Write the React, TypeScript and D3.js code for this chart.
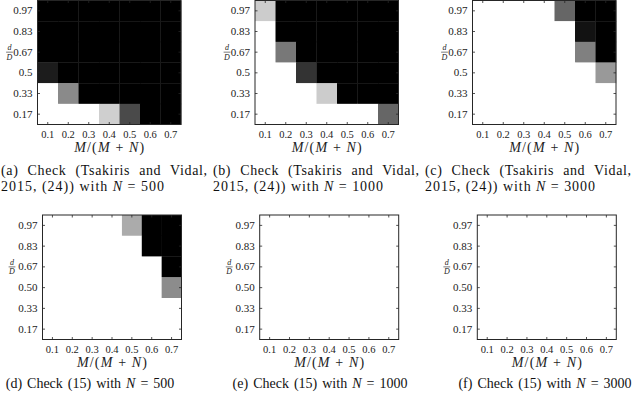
import * as d3 from 'd3';

const xTicks = ['0.1', '0.2', '0.3', '0.4', '0.5', '0.6', '0.7'];
const yTicksTop = ['0.97', '0.83', '0.67', '0.5', '0.33', '0.17'];
const yTicksBottom = ['0.97', '0.83', '0.67', '0.50', '0.33', '0.17'];

// success level per cell (0 = black, 1 = white)
// rows: d/D = 0.97 (top) .. 0.17 (bottom), columns: M/(M+N) = 0.1 .. 0.7
const gridA = [
  [0, 0, 0, 0, 0, 0, 0],
  [0, 0, 0, 0, 0, 0, 0],
  [0, 0, 0, 0, 0, 0, 0],
  [0.11, 0, 0, 0, 0, 0, 0],
  [1, 0.54, 0, 0, 0, 0, 0],
  [1, 1, 1, 0.81, 0.29, 0, 0],
];
const gridB = [
  [0.8, 0, 0, 0, 0, 0, 0],
  [1, 0, 0, 0, 0, 0, 0],
  [1, 0.47, 0, 0, 0, 0, 0],
  [1, 1, 0.2, 0, 0, 0, 0],
  [1, 1, 1, 0.8, 0, 0, 0],
  [1, 1, 1, 1, 1, 1, 0.4],
];
const gridC = [
  [1, 1, 1, 1, 0.4, 0, 0],
  [1, 1, 1, 1, 1, 0.07, 0],
  [1, 1, 1, 1, 1, 0.5, 0],
  [1, 1, 1, 1, 1, 1, 0.6],
  [1, 1, 1, 1, 1, 1, 1],
  [1, 1, 1, 1, 1, 1, 1],
];
const gridD = [
  [1, 1, 1, 1, 0.67, 0, 0],
  [1, 1, 1, 1, 1, 0, 0],
  [1, 1, 1, 1, 1, 1, 0],
  [1, 1, 1, 1, 1, 1, 0.55],
  [1, 1, 1, 1, 1, 1, 1],
  [1, 1, 1, 1, 1, 1, 1],
];
const gridE = [
  [1, 1, 1, 1, 1, 1, 1],
  [1, 1, 1, 1, 1, 1, 1],
  [1, 1, 1, 1, 1, 1, 1],
  [1, 1, 1, 1, 1, 1, 1],
  [1, 1, 1, 1, 1, 1, 1],
  [1, 1, 1, 1, 1, 1, 1],
];
const gridF = gridE;

const FONT = '"Liberation Serif", "DejaVu Serif", serif';
const gray = d3.scaleLinear<string>().domain([0, 1]).range(['#000000', '#ffffff']);

function Heatmap({ grid, yTicks, left, top, width, height, fracGap }) {
  const x = d3.scaleBand().domain(xTicks).range([left, left + width]);
  const y = d3.scaleBand().domain(yTicks).range([top, top + height]);
  const bottom = top + height;
  const right = left + width;
  const tl = 2.5;
  const labelEnd = left - 5;
  const fracX = left - fracGap;
  const fracY = y(yTicks[2])! + y.bandwidth() / 2;
  return (
    <g>
      {grid.map((row, i) =>
        row.map((v, j) => (
          <rect
            key={`${i}-${j}`}
            x={x(xTicks[j])}
            y={y(yTicks[i])}
            width={x.bandwidth() + 0.3}
            height={y.bandwidth() + 0.3}
            fill={gray(v)}
          />
        ))
      )}
      {xTicks.map(t => {
        const cx = x(t)! + x.bandwidth() / 2;
        return (
          <g key={t}>
            <line x1={cx} x2={cx} y1={bottom} y2={bottom - tl} stroke="#262626" strokeWidth={0.8} />
            <line x1={cx} x2={cx} y1={top} y2={top + tl} stroke="#262626" strokeWidth={0.8} />
            <text x={cx} y={bottom + 13.5} textAnchor="middle" fontSize={10.5} fontFamily={FONT} fill="#222">
              {t}
            </text>
          </g>
        );
      })}
      {yTicks.map(t => {
        const cy = y(t)! + y.bandwidth() / 2;
        return (
          <g key={t}>
            <line x1={left} x2={left + tl} y1={cy} y2={cy} stroke="#262626" strokeWidth={0.8} />
            <line x1={right} x2={right - tl} y1={cy} y2={cy} stroke="#262626" strokeWidth={0.8} />
            <text x={labelEnd} y={cy + 3.6} textAnchor="end" fontSize={11} fontFamily={FONT} fill="#222">
              {t}
            </text>
          </g>
        );
      })}
      <rect x={left} y={top} width={width} height={height} fill="none" stroke="#262626" strokeWidth={1} />
      {/* d/D fraction label */}
      <text x={fracX} y={fracY - 1.8} textAnchor="middle" fontSize={8} fontStyle="italic" fontFamily={FONT} fill="#222">d</text>
      <line x1={fracX - 3.4} x2={fracX + 3.4} y1={fracY} y2={fracY} stroke="#222" strokeWidth={0.6} />
      <text x={fracX} y={fracY + 7.6} textAnchor="middle" fontSize={8} fontStyle="italic" fontFamily={FONT} fill="#222">D</text>
      {/* M/(M+N) */}
      <text x={(left + right) / 2} y={bottom + 27} textAnchor="middle" fontSize={14} fontFamily={FONT} fill="#222" textLength={70} lengthAdjust="spacing">
        <tspan fontStyle="italic">M</tspan>/(<tspan fontStyle="italic">M</tspan> + <tspan fontStyle="italic">N</tspan>)
      </text>
    </g>
  );
}

function Caption({ x, y, parts, width, anchor = 'start', wordSpacing = 0 }) {
  const fit = width ? { textLength: width, lengthAdjust: 'spacing' } : {};
  return (
    <text
      x={x}
      y={y}
      fontSize={14}
      fontFamily={FONT}
      fill="#111"
      textAnchor={anchor}
      {...fit}
      style={{ wordSpacing: `${wordSpacing}px` }}
    >
      {parts.map((p, i) =>
        typeof p === 'string' ? p : <tspan key={i} fontStyle="italic">{p.it}</tspan>
      )}
    </text>
  );
}

const topRow = [
  { grid: gridA, left: 37.5, tag: '(a)', n: '500' },
  { grid: gridB, left: 255, tag: '(b)', n: '1000' },
  { grid: gridC, left: 472.5, tag: '(c)', n: '3000' },
];
const topCaptionX = [1, 213, 425];
const bottomRow = [
  { grid: gridD, left: 42.5, tag: '(d)', n: '500' },
  { grid: gridE, left: 259.7, tag: '(e)', n: '1000' },
  { grid: gridF, left: 477.3, tag: '(f)', n: '3000' },
];
const bottomCaptionCx = [90, 320, 545];

export default function App() {
  return (
    <div style={{ position: 'absolute', left: 0, top: 0 }}>
      <svg width={640} height={396} style={{ display: 'block', background: '#fff' }}>
        {topRow.map((p, i) => (
          <g key={p.tag}>
            <Heatmap grid={p.grid} yTicks={yTicksTop} left={p.left} top={0.5} width={143.5} height={124} fracGap={28} />
            <Caption x={topCaptionX[i]} y={175} width={206} wordSpacing={5} parts={[`${p.tag} Check (Tsakiris and Vidal,`]} />
            <Caption
              x={topCaptionX[i]}
              y={191}
              width={p.n.length > 3 ? 170 : 163}
              parts={['2015, (24)) with ', { it: 'N' }, ` = ${p.n}`]}
            />
          </g>
        ))}
        {bottomRow.map((p, i) => (
          <g key={p.tag}>
            <Heatmap grid={p.grid} yTicks={yTicksBottom} left={p.left} top={215} width={139} height={124.5} fracGap={30.5} />
            <Caption
              x={bottomCaptionCx[i]}
              y={388}
              anchor="middle"
              wordSpacing={1.5}
              parts={[`${p.tag} Check (15) with `, { it: 'N' }, ` = ${p.n}`]}
            />
          </g>
        ))}
      </svg>
    </div>
  );
}
